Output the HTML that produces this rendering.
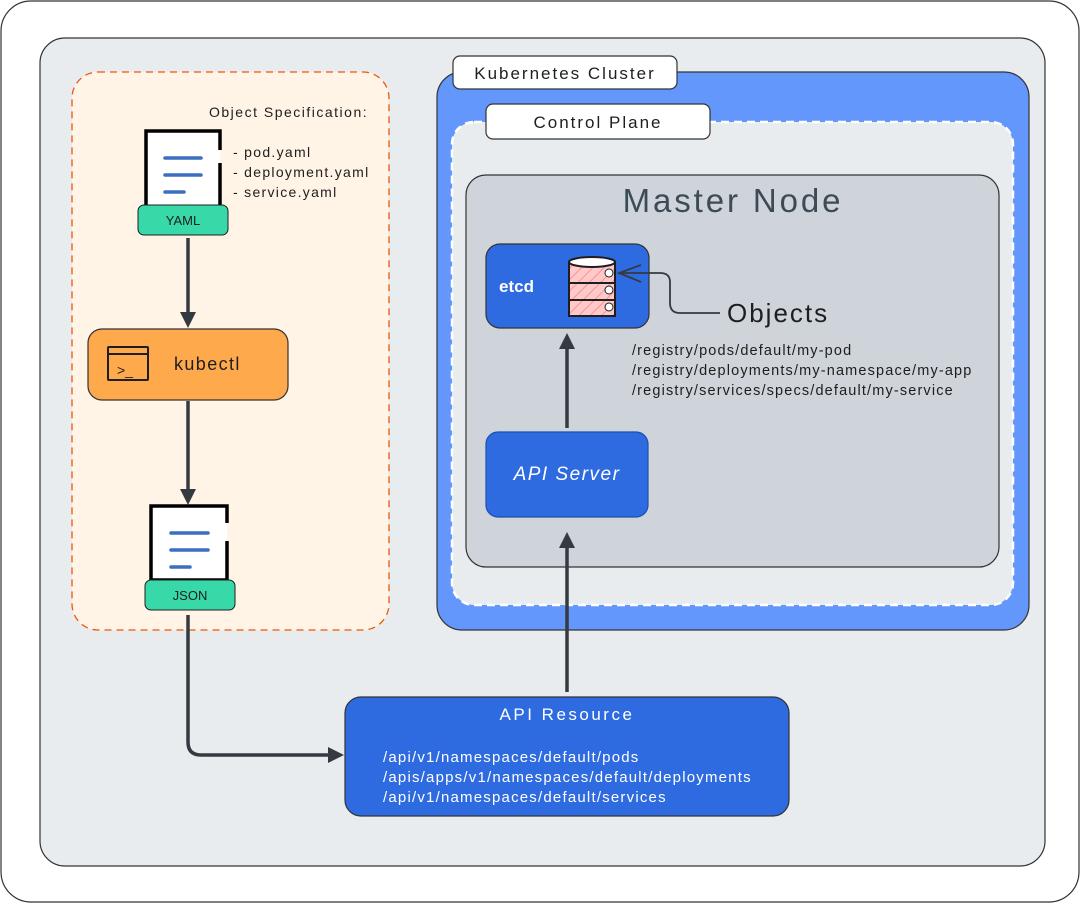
<!DOCTYPE html>
<html><head><meta charset="utf-8"><style>
html,body{margin:0;padding:0;background:#fff;}
svg{display:block;font-family:"Liberation Sans",sans-serif;}
</style></head><body>
<svg width="1081" height="904" viewBox="0 0 1081 904" xmlns="http://www.w3.org/2000/svg">
<defs>
<pattern id="hatch" width="8" height="8" patternUnits="userSpaceOnUse" patternTransform="rotate(45)">
<rect width="8" height="8" fill="#ffc9c9"/><line x1="0" y1="0" x2="0" y2="8" stroke="#fa8080" stroke-width="1.5"/>
</pattern>
</defs>
<rect x="1" y="1" width="1078" height="901" rx="30" fill="#fff" stroke="#333" stroke-width="1.2"/>
<rect x="40" y="38" width="1005" height="828" rx="25" fill="#e9ecef" stroke="#333" stroke-width="1.2"/>
<rect x="72" y="72" width="317" height="558" rx="26" fill="#fff4e6" stroke="#e8590c" stroke-width="1.3" stroke-dasharray="7 5"/>
<text x="209" y="117" font-size="14" fill="#1e1e1e" letter-spacing="1.5">Object Specification:</text>
<path d="M220 150 V131 H146 V207 H220 V163" fill="#fff" stroke="#000" stroke-width="3.5"/>
<g stroke="#3b6fc0" stroke-width="3.5" stroke-linecap="round"><line x1="165" y1="158" x2="201" y2="158"/><line x1="165" y1="175" x2="201" y2="175"/><line x1="165" y1="192" x2="184" y2="192"/></g>
<rect x="138" y="205" width="90" height="30" rx="6" fill="#38d9a9" stroke="#1e1e1e"/>
<text x="183" y="225" font-size="13" text-anchor="middle" fill="#1e1e1e">YAML</text>
<text x="233" y="157" font-size="14" fill="#1e1e1e" letter-spacing="1.3">- pod.yaml</text>
<text x="233" y="177" font-size="14" fill="#1e1e1e" letter-spacing="1.3">- deployment.yaml</text>
<text x="233" y="197" font-size="14" fill="#1e1e1e" letter-spacing="1.3">- service.yaml</text>
<line x1="188" y1="238" x2="188" y2="314" stroke="#343a40" stroke-width="3.5"/>
<path d="M180 312 L196 312 L188 328 Z" fill="#343a40"/>
<rect x="88" y="329" width="200" height="71" rx="14" fill="#ffa94d" stroke="#333" stroke-width="1.2"/>
<rect x="108" y="347" width="40" height="33" rx="1" fill="none" stroke="#1e1e1e" stroke-width="2"/>
<line x1="108" y1="354" x2="148" y2="354" stroke="#1e1e1e" stroke-width="2"/>
<text x="117" y="375" font-size="14" fill="#1e1e1e">&gt;_</text>
<text x="174" y="370" font-size="18" fill="#1e1e1e" letter-spacing="1.4">kubectl</text>
<line x1="188" y1="401" x2="188" y2="492" stroke="#343a40" stroke-width="3.5"/>
<path d="M180 489 L196 489 L188 505 Z" fill="#343a40"/>
<path d="M227 523 V506 H151 V580 H227 V541" fill="#fff" stroke="#000" stroke-width="3.5"/>
<g stroke="#3b6fc0" stroke-width="3.5" stroke-linecap="round"><line x1="171" y1="533" x2="208" y2="533"/><line x1="171" y1="550" x2="208" y2="550"/><line x1="171" y1="567" x2="190" y2="567"/></g>
<rect x="145" y="580" width="90" height="30" rx="6" fill="#38d9a9" stroke="#1e1e1e"/>
<text x="190" y="600" font-size="13" text-anchor="middle" fill="#1e1e1e">JSON</text>
<path d="M188 615 V742 Q188 755 201 755 H330" fill="none" stroke="#343a40" stroke-width="3.5"/>
<path d="M328 747 L344 755 L328 763 Z" fill="#343a40"/>
<rect x="345" y="697" width="444" height="119" rx="16" fill="#2f6be0" stroke="#333" stroke-width="1.2"/>
<text x="567" y="720" font-size="17" fill="#fff" text-anchor="middle" letter-spacing="2.5">API Resource</text>
<text x="383" y="762" font-size="15" fill="#fff" letter-spacing="1.2">/api/v1/namespaces/default/pods</text>
<text x="383" y="782" font-size="15" fill="#fff" letter-spacing="1.2">/apis/apps/v1/namespaces/default/deployments</text>
<text x="383" y="802" font-size="15" fill="#fff" letter-spacing="1.2">/api/v1/namespaces/default/services</text>
<rect x="437" y="72" width="592" height="558" rx="25" fill="#6497fc" stroke="#333" stroke-width="1.2"/>
<rect x="453" y="56" width="224" height="33" rx="7" fill="#fff" stroke="#333" stroke-width="1.2"/>
<text x="565" y="79" font-size="17" fill="#1e1e1e" text-anchor="middle" letter-spacing="2">Kubernetes Cluster</text>
<rect x="452" y="122" width="561" height="483" rx="22" fill="#e9ecef" stroke="#fff" stroke-width="2.5" stroke-dasharray="8 5"/>
<rect x="486" y="104" width="224" height="35" rx="7" fill="#fff" stroke="#333" stroke-width="1.2"/>
<text x="598" y="128" font-size="17" fill="#1e1e1e" text-anchor="middle" letter-spacing="2">Control Plane</text>
<rect x="466" y="175" width="533" height="392" rx="20" fill="#ced4da" stroke="#333" stroke-width="1.2"/>
<text x="733" y="212" font-size="33" fill="#3d4b55" text-anchor="middle" letter-spacing="2.9">Master Node</text>
<rect x="486" y="244" width="163" height="84" rx="14" fill="#2f6be0" stroke="#333" stroke-width="1.2"/>
<text x="499" y="292" font-size="17" fill="#fff" font-weight="bold">etcd</text>
<rect x="569" y="262" width="46" height="54" fill="url(#hatch)" stroke="#1e1e1e" stroke-width="2"/>
<ellipse cx="592" cy="262" rx="23" ry="5" fill="#fff" stroke="#1e1e1e" stroke-width="2"/>
<line x1="569" y1="283" x2="615" y2="283" stroke="#1e1e1e" stroke-width="2"/>
<line x1="569" y1="300" x2="615" y2="300" stroke="#1e1e1e" stroke-width="2"/>
<g fill="#fff" stroke="#1e1e1e" stroke-width="1"><circle cx="609" cy="273" r="4"/><circle cx="609" cy="290" r="4"/><circle cx="609" cy="307" r="4"/></g>
<path d="M720 313 H680 Q670 313 670 303 V282 Q670 273 660 273 H619" fill="none" stroke="#343a40" stroke-width="1.8"/>
<path d="M641 265 L619 273 L641 282" fill="none" stroke="#343a40" stroke-width="1.8"/>
<text x="727" y="322" font-size="26" fill="#1e1e1e" letter-spacing="2">Objects</text>
<text x="632" y="355" font-size="14.5" fill="#1e1e1e" letter-spacing="1.15">/registry/pods/default/my-pod</text>
<text x="632" y="375" font-size="14.5" fill="#1e1e1e" letter-spacing="1.15">/registry/deployments/my-namespace/my-app</text>
<text x="632" y="395" font-size="14.5" fill="#1e1e1e" letter-spacing="1.15">/registry/services/specs/default/my-service</text>
<rect x="486" y="432" width="162" height="85" rx="12" fill="#2f6be0" stroke="#1c4fb0" stroke-width="1.2"/>
<text x="567" y="480" font-size="19" fill="#fff" text-anchor="middle" font-style="italic" letter-spacing="1.5">API Server</text>
<line x1="567" y1="692" x2="567" y2="545" stroke="#343a40" stroke-width="3.5"/>
<path d="M559 548 L575 548 L567 532 Z" fill="#343a40"/>
<line x1="567" y1="428" x2="567" y2="346" stroke="#343a40" stroke-width="3.5"/>
<path d="M559 349 L575 349 L567 333 Z" fill="#343a40"/>
</svg>
</body></html>
